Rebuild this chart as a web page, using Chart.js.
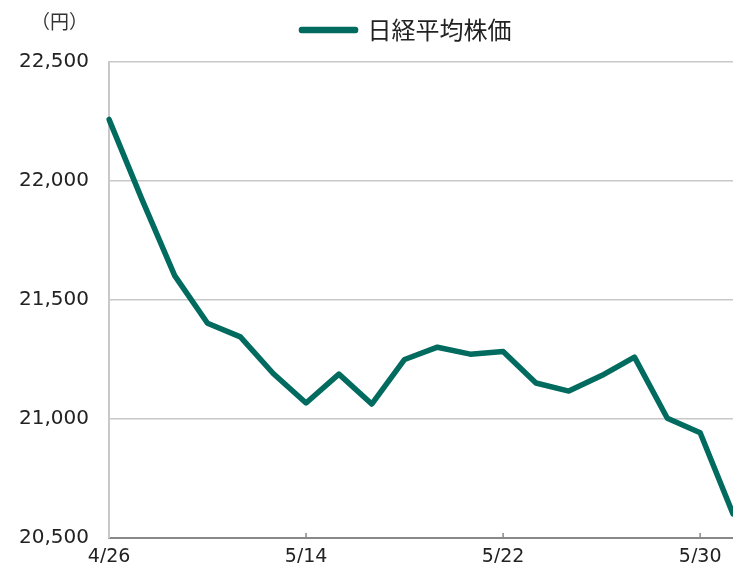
<!DOCTYPE html>
<html><head><meta charset="utf-8">
<script src="https://cdn.jsdelivr.net/npm/chart.js@4"></script>
<style>
html,body{margin:0;padding:0;background:#fff;}
#wrap{position:relative;width:733px;height:570px;}
#unit{position:absolute;left:31px;top:7px;font-family:"Noto Sans CJK JP";font-size:19px;color:#333;}
</style></head>
<body>
<div id="wrap"><canvas id="c" width="733" height="570"></canvas><div id="unit">（円）</div></div>
<script>
const dates = ['4/26','5/7','5/8','5/9','5/10','5/13','5/14','5/15','5/16','5/17','5/20','5/21','5/22','5/23','5/24','5/27','5/28','5/29','5/30','5/31'];
const nikkei = [22258.73,21923.72,21602.59,21402.13,21344.92,21191.28,21067.23,21188.56,21062.98,21250.09,21301.73,21272.45,21283.37,21151.14,21117.22,21182.58,21260.14,21003.37,20942.53,20601.19];
const seriesName = '日経平均株価';
const yMin = 20500, yMax = 22500, yStep = 500;
const labelEvery = 6;
const lineColor = '#006B5E';
const jpFont = '"Noto Sans CJK JP", "Noto Sans", sans-serif';
const numFont = '"DejaVu Sans", sans-serif';

const innerTicks = {
  id:'innerTicks',
  beforeLayout(chart){
    const lg = chart.legend;
    if(lg && !lg._patched){
      const orig = lg.fit;
      lg.fit = function(){ orig.call(this); this.height += 10; };
      lg._patched = true;
    }
  },
  afterLayout(chart){
    const lg = chart.legend;
    if(lg){ lg.left += 40; lg.right += 40; }
  },
  afterDatasetsDraw(chart){
    const x = chart.scales.x, ctx = chart.ctx, b = chart.chartArea.bottom;
    ctx.save(); ctx.strokeStyle='#888'; ctx.lineWidth=1.5;
    dates.forEach((d,i)=>{ if(i%labelEvery===0 && i>0){ const px=x.getPixelForValue(i); ctx.beginPath(); ctx.moveTo(px,b); ctx.lineTo(px,b-5); ctx.stroke(); }});
    ctx.restore();
  }
};

new Chart(document.getElementById('c'),{
  type:'line',
  data:{labels:dates,datasets:[{label:seriesName,data:nikkei,borderColor:lineColor,backgroundColor:lineColor,borderWidth:5.5,pointRadius:0,tension:0,borderJoinStyle:'round',borderCapStyle:'round'}]},
  options:{
    responsive:false,animation:false,
    layout:{padding:{top:10,right:0,left:0,bottom:0}},
    plugins:{
      legend:{display:true,position:'top',labels:{font:{family:jpFont,size:24},color:'#222',boxWidth:54,boxHeight:1,padding:8}},
      tooltip:{enabled:false}
    },
    scales:{
      x:{offset:false,
        grid:{display:false,drawTicks:false},
        border:{display:true,color:'#888',width:2},
        ticks:{autoSkip:false,maxRotation:0,padding:8,color:'#222',font:{family:numFont,size:19},
          callback:(v,i)=> i%labelEvery===0 ? dates[i] : ''},
        afterFit(s){s.height=25;s.paddingRight=0;s.paddingLeft=0;}
      },
      y:{min:yMin,max:yMax,
        grid:{color:'#c8c8c8',lineWidth:1.5,drawTicks:false},
        border:{display:true,color:'#c8c8c8',width:2},
        ticks:{stepSize:yStep,padding:20,color:'#222',font:{family:numFont,size:20},callback:v=>v.toLocaleString('en-US')},
        afterFit(s){s.width=109;}
      }
    }
  },
  plugins:[innerTicks]
});
</script>
</body></html>
